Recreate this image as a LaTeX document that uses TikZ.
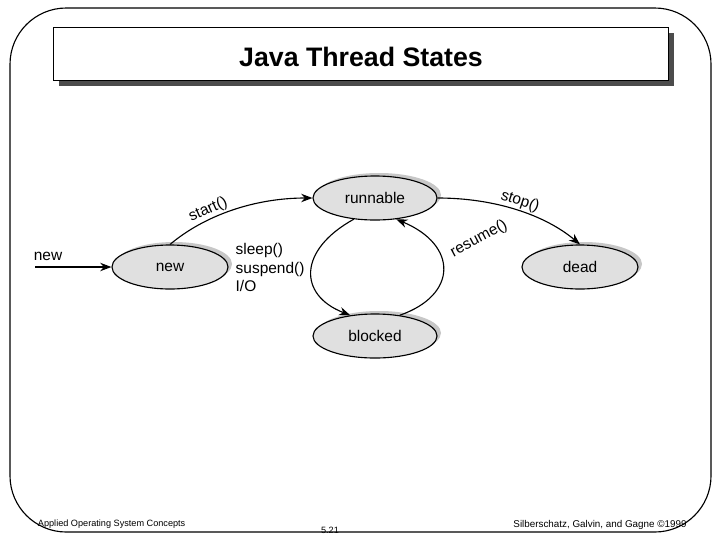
\documentclass[tikz,border=0pt]{standalone}
\usepackage{fontspec}
\setmainfont{Liberation Sans}
\usetikzlibrary{arrows.meta}
\tikzset{
  state/.style={ellipse, draw, thick, fill=black!12, font=\fontsize{11}{13}\selectfont,
    preaction={fill=black!22, transform canvas={shift={(4,-3)}}}},
  trans/.style={thick, -{Stealth[length=8pt,width=6pt]}},
  lbl/.style={font=\fontsize{11}{13}\selectfont, inner sep=1pt}
}
\usetikzlibrary{shapes.geometric}
\begin{document}
\begin{tikzpicture}[x=0.025cm, y=-0.025cm]
  % Cadre
  \useasboundingbox (0,0) rectangle (720,540);
  \draw[thick, rounded corners=40] (10,8) rectangle (711,532);
  % Titre
  \fill[black!70] (59,33) rectangle (674,86);
  \draw[fill=white] (53,27) rectangle (668,80);
  \node at (361,57) {\fontsize{19}{22}\selectfont\bfseries Java Thread States};
  % Etats
  \node[state, minimum width=3.1cm, minimum height=1.1cm] (runnable) at (375,198) {runnable};
  \node[state, minimum width=2.9cm, minimum height=1.1cm] (new) at (170,267) {new};
  \node[state, minimum width=2.9cm, minimum height=1.1cm] (dead) at (580,267) {dead};
  \node[state, minimum width=3.1cm, minimum height=1.1cm] (blocked) at (375,336) {blocked};
  \coordinate (entry) at (35,267);
  % Transitions
  \draw[trans] (entry) -- (new.west) node[lbl, pos=0.17, above=3pt] {new};
  \draw[trans] (new.north) .. controls (205,215) and (255,198) .. (runnable.west)
    node[lbl, pos=0.35, above, sloped] {start()};
  \draw[trans] (runnable.east) .. controls (495,198) and (545,215) .. (dead.north)
    node[lbl, pos=0.5, above, sloped] {stop()};
  \draw[trans] (runnable.-135) .. controls (298,250) and (298,295) .. (blocked.140);
  \draw[trans] (blocked.40) .. controls (458,295) and (458,245) .. (runnable.-45);
  \node[lbl, rotate=28] (resume) at (479,239) {resume()};
  \node[lbl, align=left, anchor=north west] (why) at (234,242) {sleep()\\suspend()\\I/O};
  % Pied de page
  \node[font=\fontsize{6.5}{8}\selectfont, anchor=west] (course) at (33,524) {Applied Operating System Concepts};
  \node[font=\fontsize{6.5}{8}\selectfont] (page) at (330,530) {5.21};
  \node[font=\fontsize{7}{8}\selectfont] (authors) at (600,525) {Silberschatz, Galvin, and Gagne \textcopyright 1999};
\end{tikzpicture}
\end{document}
